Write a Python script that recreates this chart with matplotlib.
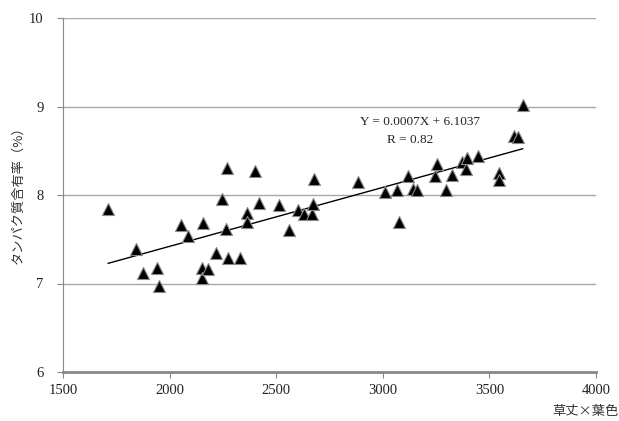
import numpy as np
import matplotlib
matplotlib.use("Agg")
import matplotlib.pyplot as plt

# 草丈×葉色 と タンパク質含有率 (%)
kusatake_yoshoku = [1712, 1842, 1877, 1942, 1950, 2052, 2088, 2150, 2150, 2155,
                    2181, 2218, 2244, 2263, 2268, 2274, 2330, 2361, 2365, 2400,
                    2419, 2513, 2560, 2604, 2630, 2669, 2674, 2679, 2885, 3010,
                    3065, 3076, 3117, 3143, 3159, 3245, 3253, 3295, 3326, 3372,
                    3390, 3396, 3446, 3546, 3546, 3615, 3632, 3656]
tanpaku = [7.84, 7.39, 7.12, 7.17, 6.97, 7.66, 7.54, 7.17, 7.06, 7.68,
           7.16, 7.34, 7.95, 7.62, 8.30, 7.29, 7.29, 7.80, 7.69, 8.27,
           7.91, 7.89, 7.60, 7.83, 7.79, 7.79, 7.90, 8.18, 8.15, 8.03,
           8.06, 7.70, 8.21, 8.07, 8.06, 8.21, 8.35, 8.06, 8.23, 8.37,
           8.29, 8.42, 8.44, 8.25, 8.17, 8.67, 8.66, 9.02]

eq_text = "Y = 0.0007X + 6.1037"
r_text = "R = 0.82"

x = np.array(kusatake_yoshoku)
y = np.array(tanpaku)
slope, icept = np.polyfit(x, y, 1)
xl = np.array([x.min(), x.max()])

jp = ["Noto Sans CJK JP", "DejaVu Sans"]
num_font = "Liberation Serif"

fig = plt.figure(figsize=(6.19, 4.21), dpi=100)
ax = fig.add_axes([63 / 619, 1 - 372 / 421, 533 / 619, 354 / 421])

for yy in [7, 8, 9, 10]:
    ax.axhline(yy, color="#a8a8a8", lw=1.0, zorder=0)

ax.plot(xl, slope * xl + icept, color="black", lw=1.0, zorder=2)
ax.scatter(x, y, marker="^", s=75, c="black", edgecolors="#8a8a8a",
           linewidths=0.8, zorder=3)

ax.set_xlim(1500, 4000)
ax.set_ylim(6, 10)
ax.set_xticks([1500, 2000, 2500, 3000, 3500, 4000])
ax.set_yticks([6, 7, 8, 9, 10])

for s in ["top", "right"]:
    ax.spines[s].set_visible(False)
ax.spines["left"].set_color("#888888")
ax.spines["bottom"].set_color("#888888")
ax.spines["bottom"].set_linewidth(2.0)
ax.tick_params(colors="#888888", length=4, width=0.8, labelcolor="#222222")
for lab in ax.get_xticklabels() + ax.get_yticklabels():
    lab.set_fontfamily(num_font)
    lab.set_fontsize(10.5)
ax.tick_params(axis="x", pad=5)
ax.tick_params(axis="y", pad=10)

ax.text(420 / 619, 1 - 121.7 / 421, eq_text, transform=fig.transFigure,
        fontsize=9.5, family=num_font, ha="center", va="center", color="#222222")
ax.text(410 / 619, 1 - 140 / 421, r_text, transform=fig.transFigure,
        fontsize=9.5, family=num_font, ha="center", va="center", color="#222222")

fig.text(18 / 619, 1 - 192 / 421, "タンパク質含有率（%）", rotation=90,
         family=jp, fontsize=9.5, ha="center", va="center", color="#333333")
fig.text(585 / 619, 1 - 412 / 421, "草丈×葉色", family=jp, fontsize=9.5,
         ha="center", va="center", color="#333333")

fig.savefig("out.png", dpi=100)
